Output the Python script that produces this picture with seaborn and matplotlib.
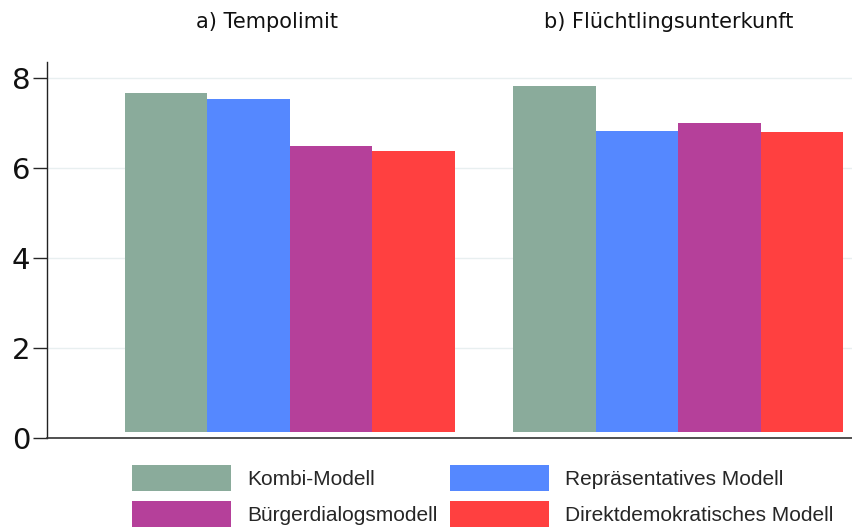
import numpy as np
import pandas as pd
import matplotlib
matplotlib.use('Agg')
from matplotlib import pyplot as plt
from matplotlib.patches import Patch
import seaborn as sns

sns.set_style('white')

#%% data
topics = ['a) Tempolimit', 'b) Flüchtlingsunterkunft']
models = ['Kombi-Modell', 'Repräsentatives Modell',
          'Bürgerdialogsmodell', 'Direktdemokratisches Modell']
tempolimit = [7.67, 7.53, 6.49, 6.38]
unterkunft = [7.82, 6.82, 7.00, 6.80]
colors = ['#8aab9b', '#5588ff', '#b5409a', '#ff4040']
base = 0.13  # bars start slightly above the axis line

df = pd.DataFrame({
    'topic': np.repeat(topics, len(models)),
    'model': models * 2,
    'value': tempolimit + unterkunft,
})
df['height'] = df['value'] - base

#%% plot
fig = plt.figure(figsize=(8.52, 5.27), dpi=100)
ax = fig.add_axes([0.055, 0.169, 0.945, 0.713])

sns.barplot(data=df, x='topic', y='height', hue='model', hue_order=models,
            palette=colors, saturation=1, width=0.85, gap=0, ax=ax,
            bottom=base, linewidth=0, legend=False)

ax.set_ylim(0, 8.36)
ax.set_xlim(-0.626, 1.448)
ax.set_yticks([0, 2, 4, 6, 8])
ax.yaxis.grid(True, color='#e8eff0', linewidth=1)
ax.set_axisbelow(True)
ax.tick_params(axis='y', labelsize=21, length=10, width=1, left=True, pad=2,
               labelcolor='#111111')
ax.tick_params(axis='x', bottom=False, labelbottom=False)
ax.set_xlabel('')
ax.set_ylabel('')
for s in ['top', 'right']:
    ax.spines[s].set_visible(False)
ax.spines['left'].set_color('#222222')
ax.spines['bottom'].set_color('#333333')
ax.spines['left'].set_linewidth(1)
ax.spines['bottom'].set_linewidth(1.2)

# panel titles
fig.text(0.313, 0.958, topics[0], ha='center', va='center', fontsize=15,
         color='#111111')
fig.text(0.785, 0.958, topics[1], ha='center', va='center', fontsize=15,
         color='#111111')

# legend
handles = [Patch(facecolor=c, edgecolor='none') for c in colors]
order = [0, 2, 1, 3]
fig.legend([handles[i] for i in order], [models[i] for i in order],
           ncol=2, loc='lower left', bbox_to_anchor=(0.155, 0.0),
           frameon=False, borderpad=0,
           prop={'family': 'Liberation Sans', 'size': 15},
           handlelength=4.75, handleheight=1.53, handletextpad=0.76,
           columnspacing=0.6, labelspacing=0.5, borderaxespad=0)

fig.savefig('out.png', dpi=100)
